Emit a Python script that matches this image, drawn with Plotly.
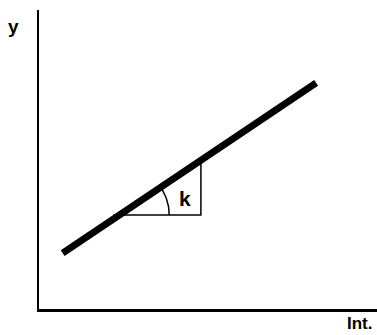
import numpy as np
import plotly.graph_objects as go

# Data (arbitrary units)
line_x = [0.7, 8.2]
line_y = [1.87, 7.56]
tri_x = [2.2, 4.79, 4.79]
tri_y = [3.14, 3.14, 4.96]
x_label = "Int."
y_label = "y"
slope_label = "k"

W, H = 377, 335
ml, mr, mt, mb = 39, 0, 10, 26
xr = [0, 10]
yr = [0, 10]
px_x = (W - ml - mr) / (xr[1] - xr[0])
px_y = (H - mt - mb) / (yr[1] - yr[0])

fig = go.Figure()
fig.add_trace(go.Scatter(x=line_x, y=line_y, mode="lines",
                         line=dict(color="black", width=7), hoverinfo="skip"))
fig.add_trace(go.Scatter(x=tri_x, y=tri_y, mode="lines",
                         line=dict(color="black", width=1.5), hoverinfo="skip"))

# angle arc at the triangle's vertex on the line
slope = (line_y[1] - line_y[0]) / (line_x[1] - line_x[0])
vx = line_x[0] + (tri_y[0] - line_y[0]) / slope
vy = tri_y[0]
ang = np.arctan(slope * px_y / px_x)
t = np.linspace(0, ang, 30)
r = 50
fig.add_trace(go.Scatter(x=vx + r * np.cos(t) / px_x, y=vy + r * np.sin(t) / px_y,
                         mode="lines", line=dict(color="black", width=1.5),
                         hoverinfo="skip"))

font = dict(family="Liberation Sans, Arial, sans-serif", color="black")
fig.add_annotation(x=4.32, y=3.68, xref="x", yref="y", text=f"<b>{slope_label}</b>",
                   showarrow=False, xanchor="center", yanchor="middle",
                   font=dict(size=21, **font))
fig.add_annotation(x=-0.074, y=0.946, xref="paper", yref="paper", text=f"<b>{y_label}</b>",
                   showarrow=False, xanchor="center", yanchor="middle",
                   font=dict(size=19, **font))
fig.add_annotation(x=0.95, y=-0.047, xref="paper", yref="paper", text=f"<b>{x_label}</b>",
                   showarrow=False, xanchor="center", yanchor="middle",
                   font=dict(size=17, **font))

fig.update_layout(
    width=W, height=H, margin=dict(l=ml, r=mr, t=mt, b=mb),
    paper_bgcolor="white", plot_bgcolor="white", showlegend=False,
    xaxis=dict(range=xr, showgrid=False, zeroline=False, showticklabels=False,
               ticks="", showline=True, linecolor="black", linewidth=2.5),
    yaxis=dict(range=yr, showgrid=False, zeroline=False, showticklabels=False,
               ticks="", showline=True, linecolor="black", linewidth=2.5),
)
fig.write_html("out.html", config={"staticPlot": True},
               post_script="document.body.style.margin='0';document.body.style.overflow='hidden';")
